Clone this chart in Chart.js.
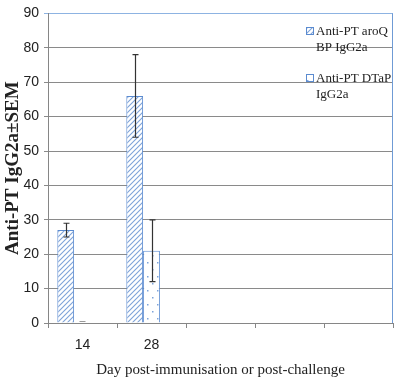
<!DOCTYPE html>
<html><head><meta charset="utf-8">
<script src="https://cdn.jsdelivr.net/npm/chart.js@4/dist/chart.umd.min.js"></script>
<style>html,body{margin:0;padding:0;background:#fff}</style>
</head><body>
<canvas id="c" width="400" height="391"></canvas>
<script>
const categories = ['14', '28', '', '', ''];
const seriesNames = [['Anti-PT aroQ', 'BP IgG2a'], ['Anti-PT DTaP', 'IgG2a']];
const aroqValues = [27, 66, null, null, null];
const aroqErrors = [2, 12, null, null, null];
const dtapValues = [0, 21, null, null, null];
const dtapErrors = [null, 9, null, null, null];
const yMin = 0, yMax = 90, yStep = 10;
const xTitle = 'Day post-immunisation or post-challenge';
const yTitle = 'Anti-PT IgG2a\u00B1SEM';

const BLUE = '#5b8bd0';
function hatchPattern() {
  const t = document.createElement('canvas'); t.width = 5; t.height = 5;
  const g = t.getContext('2d');
  g.fillStyle = '#fff'; g.fillRect(0, 0, 5, 5);
  g.strokeStyle = '#7ea3d9'; g.lineWidth = 1.1;
  g.beginPath();
  g.moveTo(-1, 6); g.lineTo(6, -1);
  g.moveTo(-1, 1); g.lineTo(1, -1);
  g.moveTo(4, 6); g.lineTo(6, 4);
  g.stroke();
  return g.createPattern(t, 'repeat');
}
function dotPattern() {
  const t = document.createElement('canvas'); t.width = 10; t.height = 14;
  const g = t.getContext('2d');
  g.fillStyle = '#fff'; g.fillRect(0, 0, 10, 14);
  g.fillStyle = '#7ea3d9';
  g.fillRect(2, 3, 1.5, 1.5);
  g.fillRect(7, 10, 1.5, 1.5);
  return g.createPattern(t, 'repeat');
}
const pats = [hatchPattern(), dotPattern()];
const errs = [aroqErrors, dtapErrors];

const extras = {
  id: 'extras',
  beforeDatasetsDraw(chart) {
    const {ctx, chartArea: a} = chart;
    ctx.save();
    ctx.strokeStyle = '#6f9bd5'; ctx.lineWidth = 1;
    ctx.beginPath();
    ctx.moveTo(a.right - 0.5, a.top); ctx.lineTo(a.right - 0.5, a.bottom);
    ctx.stroke();
    // zero-value bars shown as a short dash
    const ys = chart.scales.y;
    [aroqValues, dtapValues].forEach((vals, di) => {
      const meta = chart.getDatasetMeta(di);
      vals.forEach((v, j) => {
        if (v !== 0) return;
        const x = meta.data[j].x;
        ctx.strokeStyle = '#999';
        ctx.beginPath();
        ctx.moveTo(x - 3, ys.getPixelForValue(0) - 1.5);
        ctx.lineTo(x + 3, ys.getPixelForValue(0) - 1.5);
        ctx.stroke();
      });
    });
    ctx.restore();
  },
  afterDatasetsDraw(chart) {
    const {ctx} = chart;
    const ys = chart.scales.y;
    ctx.save();
    ctx.strokeStyle = '#333'; ctx.lineWidth = 1.2;
    errs.forEach((arr, di) => {
      const meta = chart.getDatasetMeta(di);
      const vals = chart.data.datasets[di].data;
      arr.forEach((e, j) => {
        if (e == null || vals[j] == null) return;
        const x = Math.round(meta.data[j].x) + 0.5;
        const y1 = ys.getPixelForValue(vals[j] + e);
        const y2 = ys.getPixelForValue(vals[j] - e);
        ctx.beginPath();
        ctx.moveTo(x, y1); ctx.lineTo(x, y2);
        ctx.moveTo(x - 3, y1); ctx.lineTo(x + 3, y1);
        ctx.moveTo(x - 3, y2); ctx.lineTo(x + 3, y2);
        ctx.stroke();
      });
    });
    // legend
    const items = [{y: 31}, {y: 78}];
    ctx.font = '13px "Liberation Serif", serif';
    ctx.textBaseline = 'middle';
    items.forEach((it, i) => {
      ctx.fillStyle = pats[i];
      ctx.fillRect(306, it.y - 4, 8, 8);
      ctx.strokeStyle = BLUE; ctx.lineWidth = 1;
      ctx.strokeRect(306.5, it.y - 3.5, 7, 7);
      ctx.fillStyle = '#222';
      seriesNames[i].forEach((line, k) => ctx.fillText(line, 316, it.y + 1 + k * 16));
    });
    ctx.restore();
  }
};

new Chart(document.getElementById('c'), {
  type: 'bar',
  data: {
    labels: categories,
    datasets: [
      {label: seriesNames[0].join(' '), data: aroqValues, backgroundColor: pats[0], borderColor: BLUE, borderWidth: 1},
      {label: seriesNames[1].join(' '), data: dtapValues, backgroundColor: pats[1], borderColor: BLUE, borderWidth: 1},
      {label: '', data: [null, null, null, null, null]}
    ]
  },
  options: {
    responsive: false,
    animation: false,
    devicePixelRatio: 1,
    layout: {padding: {top: 13, right: 7, left: 0, bottom: 0}},
    datasets: {bar: {categoryPercentage: 0.73, barPercentage: 1}},
    plugins: {legend: {display: false}, tooltip: {enabled: false}},
    scales: {
      x: {
        grid: {offset: true, drawOnChartArea: false, drawTicks: true, tickLength: 5, color: '#868686'},
        border: {display: true, color: '#868686'},
        ticks: {padding: 9, color: '#222', font: {family: '"Liberation Sans Narrow", "Liberation Sans", sans-serif', size: 14}},
        title: {display: true, text: xTitle, color: '#222', font: {family: '"Liberation Serif", serif', size: 15}, padding: {top: 4, bottom: 12}},
        afterFit(s) { s.height = 68; }
      },
      y: {
        min: yMin, max: yMax,
        ticks: {stepSize: yStep, padding: 5, color: '#222', font: {family: '"Liberation Sans Narrow", "Liberation Sans", sans-serif', size: 14}},
        grid: {color: c => (c.tick && c.tick.value === yMax) ? '#8db3e2' : '#8a8a8a', tickLength: 4, lineWidth: 1},
        border: {display: true, color: '#868686'},
        title: {display: true, text: yTitle, color: '#222', font: {family: '"Liberation Serif", serif', size: 19, weight: 'bold'}, padding: {top: 2, bottom: 0}},
        afterFit(s) { s.width = 48; }
      }
    }
  },
  plugins: [extras]
});
</script>
</body></html>
